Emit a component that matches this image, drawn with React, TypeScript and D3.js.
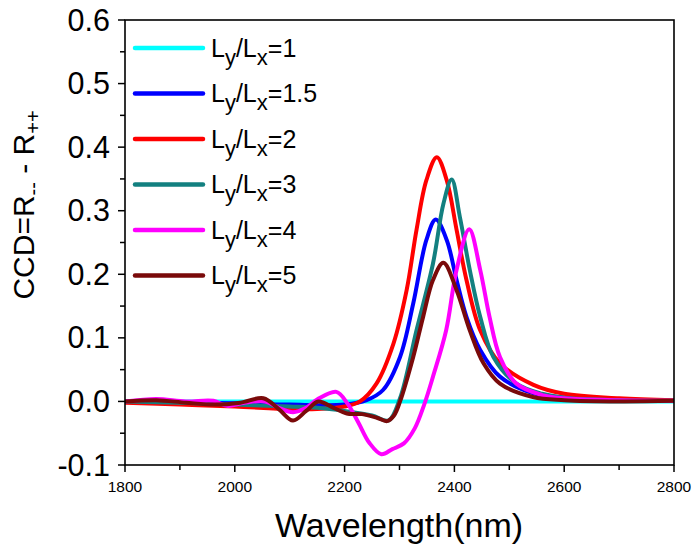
import React from "react";
import * as d3 from "d3";

const W = 697;
const H = 550;
const M = { left: 125, right: 674, top: 20, bottom: 465 };

const xTicks = [1800, 2000, 2200, 2400, 2600, 2800];
const xMinorTicks = [1900, 2100, 2300, 2500, 2700];
const yTicks = [-0.1, 0, 0.1, 0.2, 0.3, 0.4, 0.5, 0.6];
const yMinorTicks = [-0.05, 0.05, 0.15, 0.25, 0.35, 0.45, 0.55];

const legendRatios = ["1", "1.5", "2", "3", "4", "5"];
const colors = ["#00FFFF", "#0000FF", "#FF0000", "#138080", "#FF00FF", "#7A0A0A"];

const w1 = [1800, 2800];
const v1 = [0, 0];

const w15 = [1800, 1900, 2000, 2100, 2200, 2240, 2270, 2301, 2325, 2349, 2366, 2386, 2404, 2422, 2447, 2483, 2543, 2600, 2700, 2800];
const v15 = [0, -0.002, -0.003, -0.005, -0.005, 0.002, 0.018, 0.07, 0.154, 0.254, 0.286, 0.254, 0.191, 0.133, 0.081, 0.039, 0.013, 0.006, 0.002, 0.001];

const w2 = [1800, 1900, 2000, 2100, 2150, 2200, 2228, 2258, 2289, 2313, 2331, 2349, 2368, 2386, 2404, 2422, 2447, 2483, 2544, 2600, 2700, 2800];
const v2 = [-0.002, -0.005, -0.008, -0.012, -0.012, -0.008, 0.0, 0.028, 0.091, 0.175, 0.27, 0.348, 0.384, 0.348, 0.27, 0.191, 0.112, 0.06, 0.026, 0.012, 0.005, 0.002];

const w3 = [1800, 1900, 2000, 2100, 2150, 2200, 2250, 2280, 2301, 2331, 2361, 2380, 2395, 2410, 2428, 2447, 2471, 2513, 2560, 2600, 2700, 2800];
const v3 = [0, -0.002, -0.005, -0.008, -0.01, -0.015, -0.022, -0.03, 0.005, 0.112, 0.217, 0.311, 0.349, 0.29, 0.207, 0.133, 0.07, 0.028, 0.012, 0.006, 0.002, 0.001];

const w4 = [1800, 1857, 1911, 1961, 1986, 2017, 2055, 2080, 2106, 2130, 2150, 2185, 2205, 2225, 2245, 2267, 2287, 2308, 2328, 2345, 2361, 2385, 2404, 2427, 2447, 2464, 2483, 2513, 2560, 2600, 2700, 2800];
const v4 = [0, 0.004, 0.0, 0.001, -0.007, -0.002, 0.0, -0.01, -0.017, -0.01, 0.003, 0.015, -0.003, -0.033, -0.065, -0.083, -0.075, -0.066, -0.042, -0.005, 0.039, 0.112, 0.207, 0.271, 0.207, 0.133, 0.07, 0.028, 0.01, 0.005, 0.002, 0.001];

const w5 = [1800, 1857, 1911, 1964, 2010, 2052, 2080, 2106, 2130, 2152, 2180, 2204, 2232, 2260, 2277, 2290, 2301, 2325, 2343, 2361, 2380, 2404, 2428, 2453, 2483, 2543, 2600, 2700, 2800];
const v5 = [0, 0.002, -0.002, -0.005, -0.002, 0.005, -0.012, -0.03, -0.015, 0.0, -0.01, -0.019, -0.02, -0.026, -0.031, -0.022, 0.0, 0.07, 0.133, 0.191, 0.218, 0.175, 0.112, 0.06, 0.028, 0.007, 0.002, 0.0, 0.001];

const seriesW = [w1, w15, w2, w3, w4, w5];
const seriesV = [v1, v15, v2, v3, v4, v5];

const FONT = "'Liberation Sans', Arial, sans-serif";

export default function App() {
  const x = d3.scaleLinear().domain([1800, 2800]).range([M.left, M.right]);
  const y = d3.scaleLinear().domain([-0.1, 0.6]).range([M.bottom, M.top]);
  const line = d3
    .line<[number, number]>()
    .x((d) => x(d[0]))
    .y((d) => y(d[1]))
    .curve(d3.curveCatmullRom.alpha(0.5));

  const legX0 = 135;
  const legX1 = 203;
  const legY0 = 48;
  const legDy = 45.5;

  return (
    <svg
      width={W}
      height={H}
      style={{ position: "absolute", left: 0, top: 0, background: "#fff" }}
      fontFamily={FONT}
    >
      <rect x={0} y={0} width={W} height={H} fill="#fff" />
      <defs>
        <clipPath id="plotclip">
          <rect x={M.left} y={M.top} width={M.right - M.left} height={M.bottom - M.top} />
        </clipPath>
      </defs>
      <g clipPath="url(#plotclip)">
        {seriesW.map((ws, i) => {
          const pts: [number, number][] = ws.map((w, j) => [w, seriesV[i][j]]);
          return (
            <path
              key={i}
              d={line(pts) || ""}
              fill="none"
              stroke={colors[i]}
              strokeWidth={4}
              strokeLinejoin="round"
              strokeLinecap="round"
            />
          );
        })}
      </g>
      {/* frame */}
      <rect
        x={M.left}
        y={M.top}
        width={M.right - M.left}
        height={M.bottom - M.top}
        fill="none"
        stroke="#000"
        strokeWidth={1.6}
      />
      {/* x ticks */}
      {xTicks.map((t) => (
        <g key={"xt" + t}>
          <line x1={x(t)} x2={x(t)} y1={M.bottom} y2={M.bottom + 7} stroke="#000" strokeWidth={1.5} />
          <text x={x(t)} y={492} textAnchor="middle" fontSize={15.5} fill="#000">
            {t}
          </text>
        </g>
      ))}
      {xMinorTicks.map((t) => (
        <line key={"xm" + t} x1={x(t)} x2={x(t)} y1={M.bottom} y2={M.bottom + 5} stroke="#000" strokeWidth={1.5} />
      ))}
      {/* y ticks */}
      {yTicks.map((t) => (
        <g key={"yt" + t}>
          <line x1={M.left - 7} x2={M.left} y1={y(t)} y2={y(t)} stroke="#000" strokeWidth={1.5} />
          <text x={110} y={y(t) + 10.5} textAnchor="end" fontSize={30.5} fill="#000">
            {t.toFixed(1)}
          </text>
        </g>
      ))}
      {yMinorTicks.map((t) => (
        <line key={"ym" + t} x1={M.left - 5} x2={M.left} y1={y(t)} y2={y(t)} stroke="#000" strokeWidth={1.5} />
      ))}
      {/* axis titles */}
      <text x={399} y={537} textAnchor="middle" fontSize={34} fill="#000">
        Wavelength(nm)
      </text>
      <text transform="translate(34,205) rotate(-90)" textAnchor="middle" fontSize={30} fill="#000">
        CCD=R
        <tspan fontSize={20} dy={6}>--</tspan>
        <tspan dy={-6}> - R</tspan>
        <tspan fontSize={20} dy={6}>++</tspan>
      </text>
      {/* legend */}
      {legendRatios.map((r, i) => {
        const ly = legY0 + i * legDy;
        return (
          <g key={"lg" + r}>
            <line x1={legX0} x2={legX1} y1={ly} y2={ly} stroke={colors[i]} strokeWidth={4.5} strokeLinecap="round" />
            <text x={211} y={ly + 8.5} fontSize={25} fill="#000">
              L
              <tspan fontSize={22} dy={8}>y</tspan>
              <tspan dy={-8}>/L</tspan>
              <tspan fontSize={22} dy={8}>x</tspan>
              <tspan dy={-8}>={r}</tspan>
            </text>
          </g>
        );
      })}
    </svg>
  );
}
